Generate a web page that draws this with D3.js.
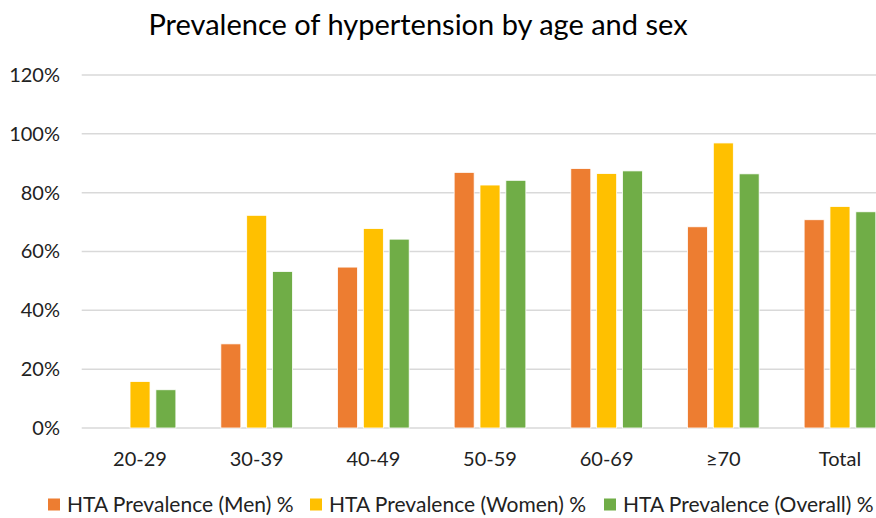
<!DOCTYPE html>
<html>
<head>
<meta charset="utf-8">
<script src="https://cdn.jsdelivr.net/npm/d3@7"></script>
<style>
  html, body { margin: 0; padding: 0; background: #fff; overflow: hidden; }
  svg { display: block; }
  text { font-family: Lato, "Open Sans", sans-serif; }
</style>
</head>
<body>
<svg id="chart" width="876" height="518"></svg>
<script>
// Age groups and hypertension prevalence (%) by sex
const categories = ["20-29", "30-39", "40-49", "50-59", "60-69", "≥70", "Total"];
const seriesNames = ["HTA Prevalence (Men) %", "HTA Prevalence (Women) %", "HTA Prevalence (Overall) %"];
const menValues = [0, 28.6, 54.7, 86.9, 88.2, 68.4, 70.8];
const womenValues = [15.8, 72.3, 67.8, 82.6, 86.5, 96.9, 75.3];
const overallValues = [13.0, 53.2, 64.2, 84.2, 87.4, 86.4, 73.5];
const yTicks = [0, 20, 40, 60, 80, 100, 120];
const colors = ["#ED7D31", "#FFC000", "#70AD47"];

const seriesValues = [menValues, womenValues, overallValues];
const rows = categories.map((c, i) => ({
  category: c,
  values: seriesNames.map((s, j) => ({ series: s, value: seriesValues[j][i], idx: j }))
}));

const svg = d3.select("#chart");
const W = 876, H = 518;
const plot = { left: 81.7, right: 898.3, top: 75, bottom: 428 };

const x0 = d3.scaleBand().domain(categories).range([plot.left, plot.right]).paddingInner(0).paddingOuter(0);
const groupWidth = 71.7;
const x1 = d3.scaleBand().domain(seriesNames).range([0, groupWidth]).paddingInner(0.226).paddingOuter(0);
const y = d3.scaleLinear().domain([0, 120]).range([plot.bottom, plot.top]);

// Title
svg.append("text")
  .attr("x", 418).attr("y", 35)
  .attr("text-anchor", "middle")
  .attr("font-size", 29)
  .attr("fill", "#000")
  .text("Prevalence of hypertension by age and sex");

// Horizontal gridlines
svg.append("g")
  .selectAll("line")
  .data(yTicks)
  .join("line")
  .attr("x1", plot.left).attr("x2", W)
  .attr("y1", d => y(d)).attr("y2", d => y(d))
  .attr("stroke", "#d9d9d9").attr("stroke-width", 1.5);

// Y axis labels
const yAxis = d3.axisLeft(y).tickValues(yTicks).tickFormat(d => d + "%").tickSize(0).tickPadding(0);
const gy = svg.append("g").attr("transform", "translate(60,0)").call(yAxis);
gy.select(".domain").remove();
gy.selectAll("text").attr("font-size", 20).attr("fill", "#222").attr("font-family", "Lato, sans-serif");

// Bars
const groups = svg.append("g")
  .selectAll("g")
  .data(rows)
  .join("g")
  .attr("transform", d => `translate(${x0(d.category) + (x0.bandwidth() - groupWidth) / 2},0)`);

groups.selectAll("rect")
  .data(d => d.values.filter(v => v.value > 0))
  .join("rect")
  .attr("x", d => x1(d.series))
  .attr("width", x1.bandwidth())
  .attr("y", d => y(d.value))
  .attr("height", d => y(0) - y(d.value))
  .attr("fill", d => colors[d.idx])
  .attr("stroke", "#fff").attr("stroke-width", 0.8);

// X axis labels
const xAxis = d3.axisBottom(x0).tickSize(0).tickPadding(0);
const gx = svg.append("g").attr("transform", `translate(0,${plot.bottom + 24})`).call(xAxis);
gx.select(".domain").remove();
gx.selectAll("text").attr("font-size", 20).attr("fill", "#222").attr("font-family", "Lato, sans-serif");

// Legend
const legendX = [48, 310, 604];
const legend = svg.append("g")
  .selectAll("g")
  .data(seriesNames)
  .join("g")
  .attr("transform", (d, i) => `translate(${legendX[i]},498.5)`);
legend.append("rect")
  .attr("width", 12).attr("height", 12)
  .attr("fill", (d, i) => colors[i]);
legend.append("text")
  .attr("x", 19).attr("y", 13)
  .attr("font-size", 21)
  .attr("fill", "#222")
  .text(d => d);
</script>
</body>
</html>
